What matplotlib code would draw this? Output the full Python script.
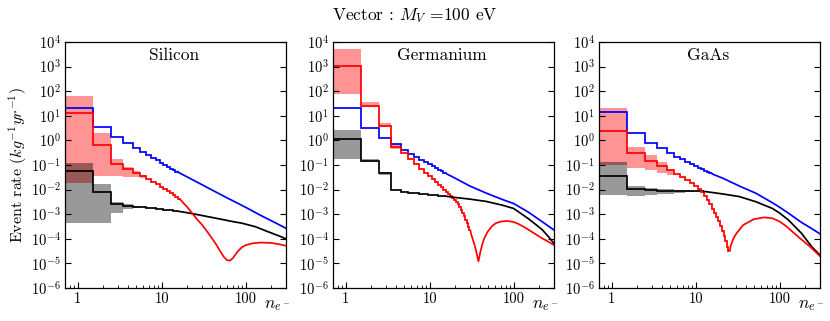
import numpy as np
import matplotlib
matplotlib.use("Agg")
import matplotlib.pyplot as plt
from matplotlib.ticker import LogLocator, NullLocator, NullFormatter

plt.rcParams.update({
    "font.family": "serif",
    "font.serif": ["cmr10"],
    "mathtext.fontset": "cm",
    "axes.formatter.use_mathtext": True,
    "font.size": 10.5,
    "axes.unicode_minus": True,
})

# ---------------- text ----------------
title = r"Vector : $M_V$ =100 eV"
materials = ["Silicon", "Germanium", "GaAs"]
ylabel = r"Event rate $(kg^{-1}yr^{-1})$"
xlabel = r"$n_{e^-}$"
x_ticks = [1, 10, 100]
x_ticklabels = ["1", "10", "100"]

# ---------------- Silicon ----------------
si_blue_steps = [21.5, 3.6, 1.43, 0.78, 0.50, 0.35, 0.26, 0.20, 0.155, 0.125, 0.102, 0.085, 0.072, 0.062, 0.054]
si_blue_tail_n = [16, 20, 30, 40, 60, 100, 150, 200, 300]
si_blue_tail_v = [0.049, 0.033, 0.016, 0.0095, 0.0046, 0.0019, 0.0009, 0.00055, 0.00027]

si_red_steps = [12.8, 0.66, 0.11, 0.072, 0.048, 0.036, 0.027, 0.021, 0.0165, 0.013, 0.0105, 0.0086, 0.0071, 0.0059, 0.0049, 0.0041]
si_red_tail_n = [18, 20, 23, 26, 30, 35, 40, 45, 50, 55, 60, 65, 70, 80, 90, 100, 120, 150, 200, 250, 300]
si_red_tail_v = [0.0029, 0.0020, 0.0011, 0.00065, 0.00038, 0.00019, 0.0001, 5.5e-5, 3e-5, 1.8e-5, 1.35e-5,
                 1.3e-5, 1.6e-5, 3e-5, 4.5e-5, 5.5e-5, 6.5e-5, 7e-5, 6.8e-5, 6e-5, 5.2e-5]

si_black_steps = [0.055, 0.0077, 0.0026, 0.0022, 0.0020, 0.0019, 0.0018, 0.00172, 0.00165, 0.00158, 0.00152,
                  0.00147, 0.00142, 0.00138, 0.00134]
si_black_tail_n = [16, 20, 25, 35, 50, 70, 90, 130, 180, 250, 300]
si_black_tail_v = [0.0013, 0.00115, 0.001, 0.0008, 0.00063, 0.0005, 0.00043, 0.00031, 0.0002, 0.00013, 0.0001]

si_red_band_lo = [0.019, 0.035, 0.036, 0.033, 0.033, 0.029]
si_red_band_hi = [65, 1.95, 0.17, 0.082, 0.055, 0.041]
si_gray_band_lo = [4.5e-4, 4.5e-4, 1.1e-3, 1.7e-3, 1.8e-3]
si_gray_band_hi = [0.117, 0.017, 3.0e-3, 2.6e-3, 2.2e-3]

# ---------------- Germanium ----------------
ge_blue_steps = [21.5, 3.3, 1.22, 0.70, 0.42, 0.29, 0.21, 0.165, 0.13, 0.105, 0.088, 0.074, 0.064, 0.055, 0.048]
ge_blue_tail_n = [16, 19, 30, 47, 74, 100, 150, 217, 300]
ge_blue_tail_v = [0.043, 0.032, 0.014, 0.0072, 0.0039, 0.0027, 0.0012, 0.0005, 0.00023]

ge_red_steps = [1100, 25, 3.9, 0.56, 0.30, 0.17, 0.106, 0.07, 0.049, 0.035, 0.026, 0.020, 0.0155, 0.0123, 0.0099,
                0.0080, 0.0066, 0.0055, 0.0046, 0.0038, 0.0031, 0.0025, 0.0019, 0.00145, 0.0011, 0.00082,
                0.0006, 0.00044, 0.00031, 0.00022]
ge_red_tail_n = [31, 32, 34, 36, 38, 40, 42.5, 45, 49, 55, 61, 70, 83, 100, 114, 140, 165, 217, 260, 300]
ge_red_tail_v = [1.6e-4, 1.15e-4, 6e-5, 2.8e-5, 1.2e-5, 2.8e-5, 6.5e-5, 1.1e-4, 1.95e-4, 3.2e-4, 4.3e-4, 5e-4,
                 5.3e-4, 4.8e-4, 4e-4, 2.7e-4, 1.9e-4, 1.05e-4, 7.5e-5, 5.6e-5]

ge_black_steps = [1.15, 0.15, 0.046, 0.0098, 0.0079, 0.0073, 0.0070, 0.0067, 0.0065, 0.0063, 0.0061, 0.0059,
                  0.0057, 0.0056, 0.0054]
ge_black_tail_n = [16, 19, 30, 47, 74, 100, 150, 217, 260, 300]
ge_black_tail_v = [0.0053, 0.0049, 0.0041, 0.0033, 0.0023, 0.0017, 0.00065, 0.00024, 0.00012, 6.6e-5]

ge_red_band_lo = [78, 23, 3.4, 0.45]
ge_red_band_hi = [5000, 38, 5.2, 0.72]
ge_gray_band_lo = [0.17, 0.13, 0.04]
ge_gray_band_hi = [2.7, 0.17, 0.052]

# ---------------- GaAs ----------------
ga_blue_steps = [14, 1.96, 0.81, 0.47, 0.30, 0.22, 0.17, 0.135, 0.11, 0.092, 0.078, 0.067, 0.059, 0.052, 0.046]
ga_blue_tail_n = [16, 21, 33, 52, 82, 100, 127, 182, 240, 300]
ga_blue_tail_v = [0.042, 0.029, 0.014, 0.0071, 0.0029, 0.0019, 0.0011, 0.00046, 0.00026, 0.00016]

ga_red_steps = [2.5, 0.30, 0.15, 0.095, 0.060, 0.042, 0.032, 0.024, 0.018, 0.0135, 0.0102, 0.0078, 0.0053,
                0.0036, 0.0025, 0.0017, 0.00115, 0.00078, 0.00052, 0.00034, 0.00021, 0.00013, 7.8e-5, 4.6e-5, 3.3e-5]
ga_red_tail_n = [26, 28, 30.5, 36.7, 48.8, 65, 82, 100, 120, 174, 229, 300]
ga_red_tail_v = [5e-5, 1e-4, 1.65e-4, 3.6e-4, 6.2e-4, 7.4e-4, 6.8e-4, 5e-4, 3.2e-4, 1.05e-4, 4.8e-5, 2e-5]

ga_black_steps = [0.037, 0.011, 0.0093, 0.0089, 0.0087, 0.0086, 0.0086, 0.0086, 0.0086, 0.0086, 0.0085, 0.0084]
ga_black_tail_n = [13, 20, 33, 52, 82, 100, 127, 182, 240, 300]
ga_black_tail_v = [0.0083, 0.0068, 0.0052, 0.0032, 0.0017, 0.0011, 0.00058, 0.000165, 4.8e-5, 2.2e-5]

ga_red_band_lo = [0.1, 0.074, 0.06, 0.046, 0.04]
ga_red_band_hi = [20, 0.56, 0.26, 0.13, 0.066]
ga_gray_band_lo = [6.2e-3, 5.7e-3, 6.3e-3, 6.6e-3, 6.9e-3, 7.2e-3, 7.5e-3, 7.8e-3, 8.1e-3]
ga_gray_band_hi = [0.13, 0.0145, 0.012, 0.011, 0.0105, 0.0100, 0.0097, 0.0094, 0.0091]

panels = [
    dict(blue=(si_blue_steps, si_blue_tail_n, si_blue_tail_v),
         red=(si_red_steps, si_red_tail_n, si_red_tail_v),
         black=(si_black_steps, si_black_tail_n, si_black_tail_v),
         rband=(si_red_band_lo, si_red_band_hi), gband=(si_gray_band_lo, si_gray_band_hi)),
    dict(blue=(ge_blue_steps, ge_blue_tail_n, ge_blue_tail_v),
         red=(ge_red_steps, ge_red_tail_n, ge_red_tail_v),
         black=(ge_black_steps, ge_black_tail_n, ge_black_tail_v),
         rband=(ge_red_band_lo, ge_red_band_hi), gband=(ge_gray_band_lo, ge_gray_band_hi)),
    dict(blue=(ga_blue_steps, ga_blue_tail_n, ga_blue_tail_v),
         red=(ga_red_steps, ga_red_tail_n, ga_red_tail_v),
         black=(ga_black_steps, ga_black_tail_n, ga_black_tail_v),
         rband=(ga_red_band_lo, ga_red_band_hi), gband=(ga_gray_band_lo, ga_gray_band_hi)),
]


def bin_edges(k):
    n = np.arange(1, k + 1)
    return np.append(n - 0.5, n[-1] + 0.5)


def draw_band(ax, lo, hi, color, alpha):
    ax.stairs(hi, bin_edges(len(hi)), baseline=lo, fill=True, color=color, alpha=alpha, lw=0)


def draw_series(ax, series, color, lw=1.25):
    steps, tail_n, tail_v = series
    edges = bin_edges(len(steps))
    ax.stairs(steps, edges, baseline=None, color=color, lw=lw)
    ax.plot(np.r_[edges[-1], tail_n], np.r_[steps[-1], tail_v], color=color, lw=lw,
            solid_joinstyle="round")


fig = plt.figure(figsize=(8.3, 3.21), dpi=100)
lefts = [0.0783, 0.4012, 0.7217]
width, bottom, height = 0.266, 0.103, 0.766

for i, (name, p) in enumerate(zip(materials, panels)):
    ax = fig.add_axes([lefts[i], bottom, width, height])
    ax.set_xscale("log")
    ax.set_yscale("log")
    draw_band(ax, *p["rband"], color="red", alpha=0.42)
    draw_band(ax, *p["gband"], color="black", alpha=0.4)
    draw_series(ax, p["blue"], "blue")
    draw_series(ax, p["black"], "black")
    draw_series(ax, p["red"], "red")

    ax.set_xlim(0.705, 300)
    ax.set_ylim(1e-6, 1e4)
    ax.yaxis.set_major_locator(LogLocator(base=10, numticks=20))
    ax.yaxis.set_minor_locator(NullLocator())
    ax.set_xticks(x_ticks)
    ax.set_xticklabels(x_ticklabels)
    ax.xaxis.set_minor_locator(LogLocator(base=10, subs=np.arange(2, 10), numticks=20))
    ax.xaxis.set_minor_formatter(NullFormatter())
    ax.tick_params(which="both", direction="in", right=True, top=False, labelsize=10.5)
    ax.tick_params(which="major", length=4, width=0.8, pad=3)
    ax.tick_params(which="minor", length=2, width=0.6)
    for s in ax.spines.values():
        s.set_linewidth(0.9)
    ax.text(0.495, 0.947, name, transform=ax.transAxes, ha="center", va="center", fontsize=12.5)
    ax.text(0.90, -0.07, xlabel, transform=ax.transAxes, ha="left", va="center", fontsize=12.5)

fig.text(0.5, 0.953, title, ha="center", va="center", fontsize=12.5)
fig.text(0.021, 0.486, ylabel, ha="center", va="center", rotation=90, fontsize=11.5)

fig.savefig("out.png", dpi=100)
